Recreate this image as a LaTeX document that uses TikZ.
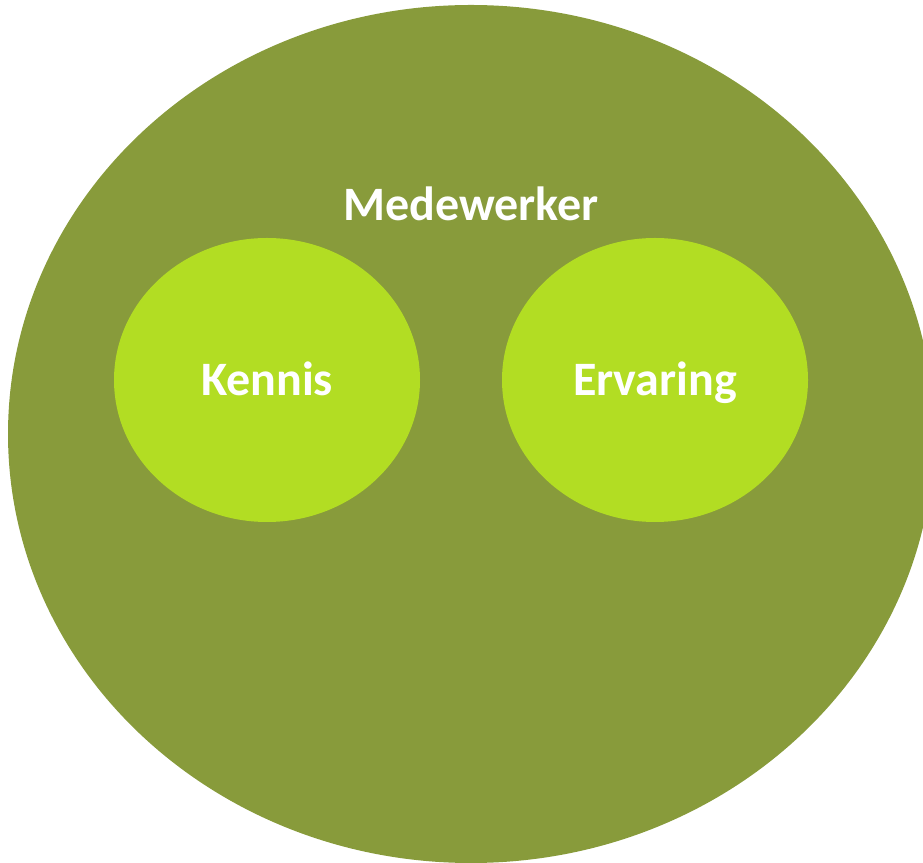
\documentclass[tikz,border=0pt]{standalone}
\usepackage{fontspec}
\setmainfont{Carlito}
\usetikzlibrary{shapes.geometric}
\definecolor{outergreen}{HTML}{889B3B}
\definecolor{innergreen}{HTML}{B2DD23}
\tikzset{
  blob/.style={ellipse, inner sep=0pt, draw=none},
  lbl/.style={text=white, font=\fontsize{48}{50}\selectfont\bfseries, anchor=base, inner sep=0pt}
}
\begin{document}
\begin{tikzpicture}[x=1pt,y=1pt]
\useasboundingbox (0,0) rectangle (923,862);
\clip (0,0) rectangle (923,862);
\node[blob, fill=outergreen, minimum width=926pt, minimum height=858pt] (staff) at (471,428) {};
\node[blob, fill=innergreen, minimum width=306pt, minimum height=284pt] (know) at (267,482) {};
\node[blob, fill=innergreen, minimum width=306pt, minimum height=284pt] (exp) at (655,482) {};
\node[lbl] (stafflbl) at (471,641) {Medewerker};
\node[lbl] (knowlbl) at (267,466) {Kennis};
\node[lbl] (explbl) at (655,466) {Ervaring};
\end{tikzpicture}
\end{document}
